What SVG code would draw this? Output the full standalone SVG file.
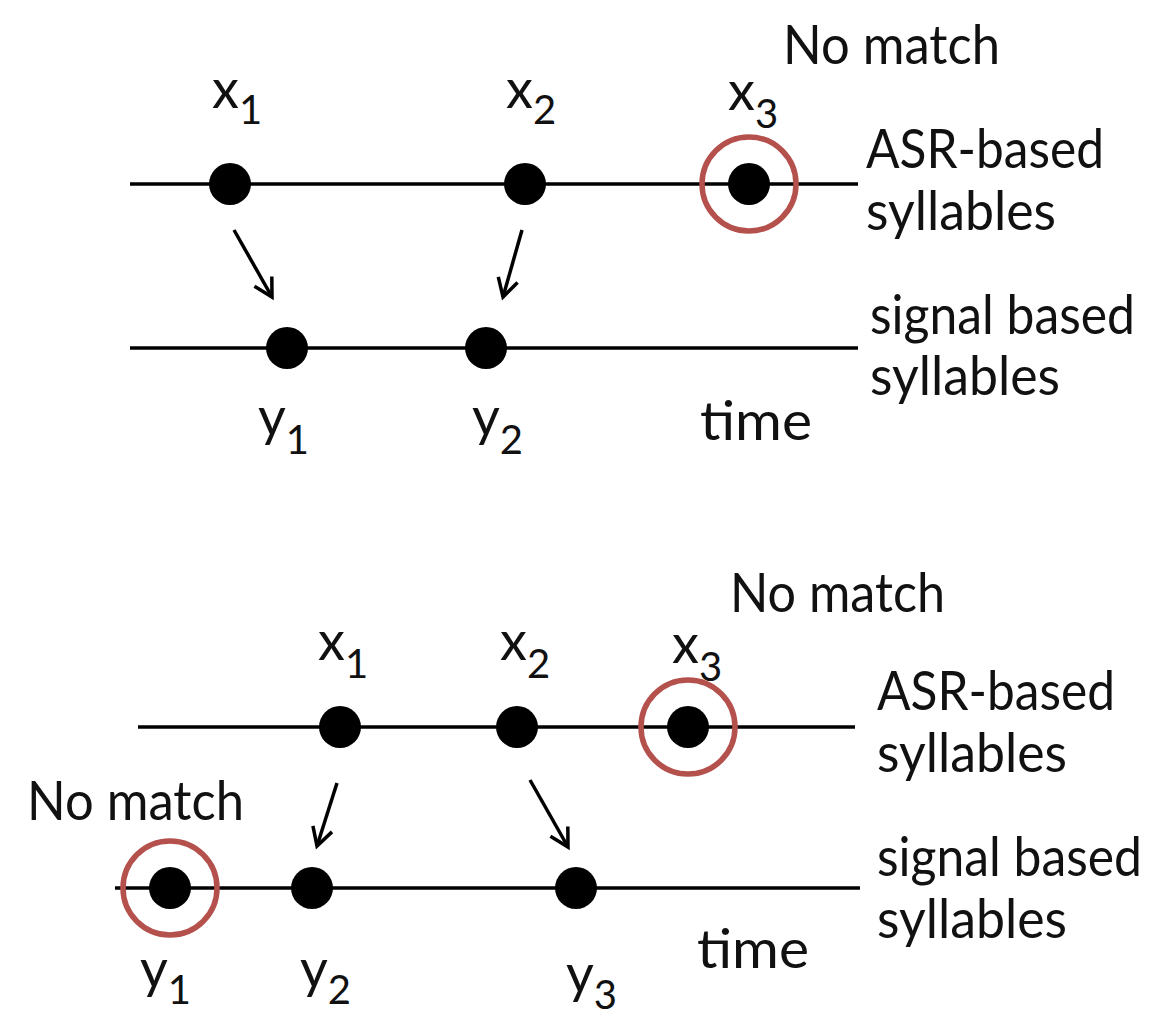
<svg xmlns="http://www.w3.org/2000/svg" width="1162" height="1016" viewBox="0 0 1162 1016">
<defs>
<style>
.t{font-family:Lato,"Liberation Sans",sans-serif;font-size:54px;fill:#111}
.s{font-size:40px}
.ln{stroke:#000;stroke-width:3.5;fill:none}
.ar{stroke:#000;stroke-width:3.5;fill:none}
.dot{fill:#000}
.ring{fill:none;stroke:#b5514d;stroke-width:5.5}
</style>
<marker id="ah" viewBox="-22 -12 26 24" markerWidth="26" markerHeight="24" refX="0" refY="0" orient="auto" markerUnits="userSpaceOnUse">
<path d="M-18,-10 L0,0 L-18,10" stroke="#000" stroke-width="3.5" fill="none"/>
</marker>
</defs>
<rect width="1162" height="1016" fill="#fff"/>

<g id="connectors">
<line class="ln" x1="130" y1="184" x2="858" y2="184"/>
<line class="ln" x1="130" y1="348" x2="858" y2="348"/>
<line class="ln" x1="138" y1="727" x2="855" y2="727"/>
<line class="ln" x1="115" y1="888" x2="860" y2="888"/>
<line class="ar" x1="234" y1="230" x2="272" y2="297" marker-end="url(#ah)"/>
<line class="ar" x1="522" y1="230" x2="503" y2="297" marker-end="url(#ah)"/>
<line class="ar" x1="337" y1="783" x2="317" y2="846" marker-end="url(#ah)"/>
<line class="ar" x1="530" y1="780" x2="568" y2="847" marker-end="url(#ah)"/>
</g>

<g id="top-x1"><circle class="dot" cx="230" cy="184" r="21"/><text class="t" x="212" y="108">x<tspan class="s" dy="16">1</tspan></text></g>
<g id="top-x2"><circle class="dot" cx="525" cy="184" r="21"/><text class="t" x="506" y="108">x<tspan class="s" dy="16">2</tspan></text></g>
<g id="top-x3"><circle class="dot" cx="749" cy="184" r="21"/><circle class="ring" cx="749" cy="184" r="47"/><text class="t" x="728" y="110">x<tspan class="s" dy="18">3</tspan></text></g>
<g id="top-nomatch"><text class="t" x="783" y="64" textLength="217" lengthAdjust="spacingAndGlyphs">No match</text></g>
<g id="top-asr-label"><text class="t" x="866" y="168" textLength="238" lengthAdjust="spacingAndGlyphs">ASR-based</text><text class="t" x="866" y="230" textLength="190" lengthAdjust="spacingAndGlyphs">syllables</text></g>
<g id="top-y1"><circle class="dot" cx="287" cy="348" r="21"/><text class="t" x="258" y="436">y<tspan class="s" dy="18">1</tspan></text></g>
<g id="top-y2"><circle class="dot" cx="486" cy="348" r="21"/><text class="t" x="472" y="436">y<tspan class="s" dy="18">2</tspan></text></g>
<g id="top-signal-label"><text class="t" x="870" y="334" textLength="265" lengthAdjust="spacingAndGlyphs">signal based</text><text class="t" x="870" y="395" textLength="190" lengthAdjust="spacingAndGlyphs">syllables</text></g>
<g id="top-time"><text class="t" x="700" y="440" textLength="112" lengthAdjust="spacingAndGlyphs">time</text></g>

<g id="bot-x1"><circle class="dot" cx="340" cy="727" r="21"/><text class="t" x="318" y="660">x<tspan class="s" dy="18">1</tspan></text></g>
<g id="bot-x2"><circle class="dot" cx="517" cy="727" r="21"/><text class="t" x="500" y="660">x<tspan class="s" dy="18">2</tspan></text></g>
<g id="bot-x3"><circle class="dot" cx="688" cy="727" r="21"/><circle class="ring" cx="688" cy="727" r="47"/><text class="t" x="672" y="663">x<tspan class="s" dy="18">3</tspan></text></g>
<g id="bot-nomatch-right"><text class="t" x="730" y="612" textLength="215" lengthAdjust="spacingAndGlyphs">No match</text></g>
<g id="bot-asr-label"><text class="t" x="877" y="710" textLength="238" lengthAdjust="spacingAndGlyphs">ASR-based</text><text class="t" x="877" y="772" textLength="190" lengthAdjust="spacingAndGlyphs">syllables</text></g>
<g id="bot-nomatch-left"><text class="t" x="27" y="820" textLength="217" lengthAdjust="spacingAndGlyphs">No match</text></g>
<g id="bot-y1"><circle class="dot" cx="170" cy="888" r="21"/><circle class="ring" cx="170" cy="888" r="47"/><text class="t" x="140" y="988">y<tspan class="s" dy="16">1</tspan></text></g>
<g id="bot-y2"><circle class="dot" cx="312" cy="888" r="21"/><text class="t" x="300" y="988">y<tspan class="s" dy="16">2</tspan></text></g>
<g id="bot-y3"><circle class="dot" cx="576" cy="888" r="21"/><text class="t" x="566" y="993">y<tspan class="s" dy="16">3</tspan></text></g>
<g id="bot-signal-label"><text class="t" x="877" y="876" textLength="265" lengthAdjust="spacingAndGlyphs">signal based</text><text class="t" x="877" y="938" textLength="190" lengthAdjust="spacingAndGlyphs">syllables</text></g>
<g id="bot-time"><text class="t" x="697" y="968" textLength="112" lengthAdjust="spacingAndGlyphs">time</text></g>
</svg>
